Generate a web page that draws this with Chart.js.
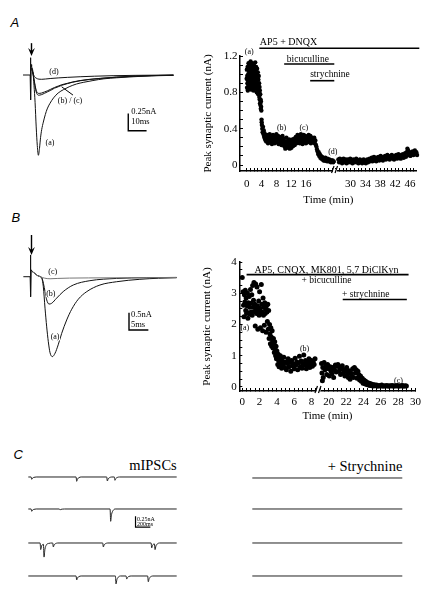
<!DOCTYPE html>
<html>
<head>
<meta charset="utf-8">
<script src="https://cdn.jsdelivr.net/npm/chart.js@4.4.1/dist/chart.umd.min.js"></script>
<style>
  html, body { margin: 0; padding: 0; background: #fff; }
  body { position: relative; width: 429px; height: 594px; overflow: hidden; font-family: "Liberation Serif", serif; color: #000; }
  canvas { position: absolute; }
  .panel { position: absolute; font: italic 13px "Liberation Sans", sans-serif; line-height: 1; }
  .title { position: absolute; font-size: 14.5px; line-height: 1; white-space: nowrap; }
</style>
</head>
<body>
<div class="panel" style="left:10.5px;top:15.7px">A</div>
<div class="panel" style="left:11.5px;top:210.7px">B</div>
<div class="panel" style="left:13.5px;top:448.3px">C</div>
<div class="title" style="right:252.3px;top:457.9px">mIPSCs</div>
<div class="title" style="right:26.7px;top:458.9px">+ Strychnine</div>

<canvas id="traceA" width="170" height="130" style="left:15px;top:35px"></canvas>
<canvas id="courseA" width="234" height="185" style="left:195px;top:30px"></canvas>
<canvas id="traceB" width="170" height="142" style="left:15px;top:228px"></canvas>
<canvas id="courseB" width="234" height="175" style="left:195px;top:250px"></canvas>

<canvas id="mini1" width="153" height="30" style="left:26px;top:471.7px"></canvas>
<canvas id="mini2" width="153" height="30" style="left:26px;top:504.3px"></canvas>
<canvas id="mini3" width="153" height="30" style="left:26px;top:538.3px"></canvas>
<canvas id="mini4" width="153" height="30" style="left:26px;top:571px"></canvas>
<canvas id="stry1" width="155" height="30" style="left:250px;top:473.3px"></canvas>
<canvas id="stry2" width="155" height="30" style="left:250px;top:504.3px"></canvas>
<canvas id="stry3" width="155" height="30" style="left:250px;top:538.3px"></canvas>
<canvas id="stry4" width="155" height="30" style="left:250px;top:571px"></canvas>

<script>
const SERIF = '"Liberation Serif", serif';
Chart.defaults.font.family = SERIF;
Chart.defaults.color = '#000';

// ---------- A: evoked currents, [ms, nA]
const stimA = [[-4.2, 0], [-0.3, 0], [-0.15, 0.25], [0.05, -0.36], [0.25, 0.15], [0.5, 0.12]];
const evokedAa = [[0.5, 0.12], [1.2, 0.05], [1.8, -0.15], [2.4, -0.4], [3.0, -0.75], [3.6, -1.02], [4.2, -1.16], [4.8, -1.06], [5.4, -0.9], [6.0, -0.79], [6.9, -0.68], [8.0, -0.57], [9.0, -0.49], [10.5, -0.41], [12.5, -0.33], [15, -0.26], [18, -0.21], [21, -0.17], [25, -0.13], [29, -0.105], [34, -0.08], [40, -0.055], [47, -0.04], [56, -0.025], [66, -0.012], [78, -0.005]];
const evokedAb = [[0.5, 0.1], [1.2, 0.03], [1.8, -0.06], [2.4, -0.15], [3.0, -0.22], [3.6, -0.255], [4.2, -0.265], [5.0, -0.265], [6.0, -0.26], [7.5, -0.245], [9, -0.23], [11, -0.205], [13, -0.18], [15, -0.16], [17, -0.14], [20, -0.12], [23, -0.1], [27, -0.08], [32, -0.063], [38, -0.048], [47, -0.03], [58, -0.015], [70, -0.006], [78, -0.003]];
const evokedAc = [[0.5, 0.1], [1.2, 0.03], [1.8, -0.07], [2.4, -0.17], [3.0, -0.245], [3.6, -0.28], [4.2, -0.292], [5.0, -0.29], [6.0, -0.283], [7.5, -0.265], [9, -0.245], [11, -0.22], [13, -0.19], [15, -0.17], [17, -0.148], [20, -0.125], [23, -0.104], [27, -0.083], [32, -0.065], [38, -0.05], [47, -0.031], [58, -0.016], [70, -0.007], [78, -0.003]];
const evokedAd = [[0.5, 0.1], [1.2, 0.03], [2.0, -0.02], [3.0, -0.045], [4.5, -0.06], [6, -0.062], [8, -0.058], [11, -0.05], [15, -0.042], [20, -0.034], [27, -0.025], [35, -0.017], [45, -0.01], [57, -0.005], [78, 0]];
const scaleBarA = [[53.3, -0.555], [53.3, -0.805], [63.3, -0.805]]; // 0.25 nA, 10 ms

// ---------- A: time course, [min, nA]
const courseA1 = [
  [0.00,0.95],[0.05,1.05],[0.10,0.85],[0.15,0.98],[0.20,0.90],[0.25,1.08],[0.30,0.82],[0.35,0.93],[0.40,1.00],[0.45,0.88],
  [0.50,1.12],[0.55,0.95],[0.60,0.84],[0.65,1.03],[0.70,0.91],[0.75,0.97],[0.80,1.10],[0.85,0.86],[0.90,0.99],[0.95,1.06],
  [1.00,0.89],[1.05,1.14],[1.10,0.93],[1.15,0.83],[1.20,1.01],[1.25,0.96],[1.30,1.09],[1.35,0.87],[1.40,1.04],[1.45,0.92],
  [1.50,1.12],[1.55,0.85],[1.60,0.98],[1.65,1.07],[1.70,0.90],[1.75,1.02],[1.80,0.82],[1.85,0.95],[1.90,1.11],[1.95,0.88],
  [2.00,1.00],[2.05,1.08],[2.10,0.86],[2.15,0.94],[2.20,1.05],[2.25,0.90],[2.30,1.13],[2.35,0.97],[2.40,0.84],[2.45,1.03],
  [2.50,0.92],[2.55,1.08],[2.60,0.88],[2.65,1.00],[2.70,0.80],[2.75,0.95],[2.80,1.06],[2.85,0.87],[2.90,0.98],[2.95,0.83],
  [3.00,1.02],[3.05,0.90],[3.10,0.78],[3.15,0.94],[3.20,0.85],[3.25,0.98],[3.30,0.80],[3.35,0.90],[3.40,0.75],[3.45,0.86],
  [3.50,0.72],[3.55,0.82],[3.60,0.68],[3.65,0.78],[3.70,0.66],[3.75,0.72],[3.80,0.62],[3.85,0.70],[3.90,0.64],[3.95,0.60],
  [4.00,0.50],[4.05,0.47],[4.10,0.44],[4.20,0.40],[4.30,0.36],[4.40,0.42],[4.50,0.34],[4.60,0.38],[4.70,0.31],[4.80,0.35],
  [4.90,0.29],[5.00,0.33],[5.10,0.27],[5.20,0.32],[5.30,0.26],[5.45,0.33],[5.60,0.28],[5.75,0.24],[5.90,0.31],[6.05,0.27],
  [6.20,0.34],[6.35,0.25],[6.50,0.29],[6.65,0.32],[6.80,0.23],[6.95,0.28],[7.10,0.33],[7.25,0.26],[7.40,0.30],[7.55,0.24],
  [7.70,0.31],[7.85,0.27],[8.00,0.34],[8.15,0.25],[8.30,0.29],[8.45,0.32],[8.60,0.23],[8.75,0.28],[8.90,0.31],[9.05,0.25],
  [9.20,0.30],[9.35,0.22],[9.50,0.27],[9.65,0.32],[9.80,0.24],[9.95,0.29],[10.10,0.21],[10.25,0.26],[10.40,0.18],[10.55,0.24],
  [10.70,0.30],[10.85,0.20],[11.00,0.26],[11.15,0.19],[11.30,0.23],[11.45,0.28],[11.60,0.18],[11.75,0.22],[11.90,0.26],[12.05,0.19],
  [12.20,0.24],[12.35,0.28],[12.50,0.21],[12.65,0.25],[12.80,0.29],[12.95,0.22],[13.10,0.27],[13.25,0.31],[13.40,0.24],[13.55,0.29],
  [13.70,0.33],[13.85,0.25],[14.00,0.28],[14.15,0.32],[14.30,0.24],[14.45,0.29],[14.60,0.34],[14.75,0.26],[14.90,0.30],[15.05,0.23],
  [15.20,0.28],[15.35,0.33],[15.50,0.25],[15.65,0.29],[15.80,0.32],[15.95,0.24],[16.10,0.28],[16.25,0.31],[16.40,0.25],[16.55,0.30],
  [16.70,0.33],[16.85,0.26],[17.00,0.29],[17.15,0.32],[17.30,0.24],[17.45,0.28],[17.60,0.30],[17.75,0.25],[17.90,0.29],[18.05,0.26],
  [18.20,0.30],[18.35,0.24],[18.50,0.27],[18.65,0.22],[18.80,0.20],[18.95,0.17],[19.10,0.15],[19.25,0.12],[19.40,0.14],[19.55,0.10],
  [19.70,0.12],[19.85,0.08],[20.00,0.10],[20.15,0.07],[20.30,0.09],[20.45,0.06],[20.60,0.08],[20.75,0.05],[20.90,0.07],[21.05,0.05],
  [21.20,0.08],[21.35,0.05],[21.50,0.06],[21.65,0.04],[21.80,0.07],[21.95,0.05],[22.10,0.04],[22.25,0.06],[22.40,0.04],[22.55,0.05],
  [22.70,0.03],[22.85,0.05],[23.00,0.04],[23.15,0.05],[23.30,0.03],[23.45,0.04]
];
const courseA2 = [
  [26.7,0.06],[26.9,0.03],[27.1,0.07],[27.3,0.04],[27.5,0.06],[27.7,0.02],[27.9,0.05],[28.1,0.07],[28.3,0.03],[28.5,0.05],
  [28.7,0.06],[28.9,0.02],[29.1,0.04],[29.3,0.06],[29.5,0.03],[29.7,0.05],[29.9,0.07],[30.1,0.03],[30.3,0.05],[30.5,0.02],
  [30.7,0.06],[30.9,0.04],[31.1,0.03],[31.3,0.05],[31.5,0.07],[31.7,0.03],[31.9,0.05],[32.1,0.02],[32.3,0.04],[32.5,0.06],
  [32.7,0.03],[32.9,0.05],[33.1,0.02],[33.3,0.04],[33.5,0.06],[33.7,0.03],[33.9,0.05],[34.1,0.02],[34.3,0.04],[34.5,0.06],
  [34.7,0.03],[34.9,0.05],[35.1,0.07],[35.3,0.04],[35.5,0.06],[35.7,0.08],[35.9,0.04],[36.1,0.06],[36.3,0.09],[36.5,0.05],
  [36.7,0.07],[36.9,0.04],[37.1,0.08],[37.3,0.06],[37.5,0.09],[37.7,0.05],[37.9,0.07],[38.1,0.10],[38.3,0.06],[38.5,0.08],
  [38.7,0.05],[38.9,0.09],[39.1,0.07],[39.3,0.10],[39.5,0.06],[39.7,0.08],[39.9,0.11],[40.1,0.07],[40.3,0.09],[40.5,0.06],
  [40.7,0.10],[40.9,0.08],[41.1,0.11],[41.3,0.07],[41.5,0.09],[41.7,0.06],[41.9,0.10],[42.1,0.08],[42.3,0.11],[42.5,0.07],
  [42.7,0.09],[42.9,0.12],[43.1,0.08],[43.3,0.10],[43.5,0.07],[43.7,0.11],[43.9,0.09],[44.1,0.12],[44.3,0.08],[44.5,0.10],
  [44.7,0.13],[44.9,0.09],[45.1,0.14],[45.3,0.18],[45.5,0.16],[45.7,0.11],[45.9,0.13],[46.1,0.10],[46.3,0.14],[46.5,0.12],
  [46.7,0.15],[46.9,0.11],[47.1,0.13],[47.3,0.16],[47.5,0.12],[47.7,0.14],[47.9,0.11],[48.1,0.15],[48.3,0.13]
];
const drugNamesA = ['AP5 + DNQX', 'bicuculline', 'strychnine'];
const drugStartA = [3.4, 10.1, 17.1];
const drugEndA = [48.5, 23.6, 23.6];
const xLabelsA = ['0', '4', '8', '12', '16', '30', '34', '38', '42', '46'];
const yLabelsA = ['0', '0.4', '0.8', '1.2'];

// ---------- B: evoked currents, [ms, nA]
const stimB = [[-1.9, 0], [-0.15, 0], [-0.08, 0.63], [0.02, -0.58], [0.12, 0.2], [0.4, 0.15]];
const evokedBa = [[0.4, 0.15], [1.0, 0.1], [1.8, 0.03], [2.5, 0], [2.9, -0.05], [3.26, -0.29], [3.7, -0.91], [4.13, -1.45], [4.55, -1.88], [5.0, -2.2], [5.6, -2.31], [6.3, -2.21], [7.1, -1.97], [8.0, -1.64], [9.3, -1.25], [10.6, -0.94], [12.3, -0.65], [14.5, -0.43], [17.9, -0.24], [22.2, -0.145], [28.2, -0.075], [33, -0.045], [37.7, -0.03]];
const evokedBb = [[0.4, 0.15], [1.0, 0.1], [1.8, 0.03], [2.5, 0], [2.9, -0.04], [3.3, -0.2], [3.7, -0.43], [4.13, -0.67], [4.73, -0.79], [5.4, -0.77], [6.7, -0.62], [8.4, -0.43], [11, -0.24], [15.3, -0.115], [22.2, -0.05], [30, -0.028], [37.7, -0.02]];
const evokedBc = [[0.4, 0.15], [1.0, 0.1], [1.8, 0.03], [2.5, 0], [3.5, -0.04], [5, -0.06], [7, -0.05], [10, -0.04], [15, -0.035], [25, -0.03], [37.7, -0.025]];
const scaleBarB = [[25.4, -1.04], [25.4, -1.54], [30.4, -1.54]]; // 0.5 nA, 5 ms

// ---------- B: time course, [min, nA]
const courseB1 = [
  [0.0,3.51],[0.1,3.05],[0.15,2.62],[0.2,2.25],[0.25,2.95],[0.3,2.72],[0.35,3.1],[0.4,2.45],[0.45,2.85],[0.5,2.35],
  [0.55,2.6],[0.6,3.0],[0.65,2.2],[0.7,2.7],[0.75,2.38],[0.8,2.9],[0.85,2.55],[0.9,2.33],[0.95,3.12],[1.0,2.68],
  [1.05,2.4],[1.1,2.95],[1.15,2.3],[1.2,3.25],[1.25,2.55],[1.3,2.78],[1.35,3.35],[1.4,2.42],[1.45,2.65],[1.5,1.95],
  [1.55,3.3],[1.6,2.5],[1.65,2.35],[1.7,3.2],[1.75,2.6],[1.8,1.85],[1.85,2.45],[1.9,2.75],[1.95,2.3],[2.0,3.05],
  [2.05,2.52],[2.1,1.9],[2.15,2.37],[2.2,3.28],[2.25,2.65],[2.3,2.4],[2.35,1.8],[2.4,2.85],[2.45,2.3],[2.5,2.55],
  [2.55,1.98],[2.6,2.7],[2.65,2.35],[2.7,2.5],[2.75,1.75],[2.8,2.6],[2.85,2.4],[2.9,2.1],[2.95,2.65],[3.0,1.85],
  [3.05,2.45],[3.1,1.55],[3.15,2.0],[3.2,1.7],[3.25,1.38],[3.3,1.9],[3.35,1.6],[3.4,1.3],[3.45,1.8],[3.5,1.48],
  [3.55,1.25],[3.6,1.55],[3.65,1.35],[3.7,1.1],[3.75,1.45],[3.8,1.2],[3.85,1.0],[3.9,1.3],[3.95,0.9],[4.0,1.15],
  [4.05,0.97],[4.1,0.72],[4.15,1.05],[4.2,0.85],[4.25,0.65],[4.3,0.95],[4.35,0.78],[4.4,1.0],[4.45,0.68],[4.5,0.88],
  [4.55,0.6],[4.6,0.82],[4.7,0.7],[4.8,0.95],[4.9,0.62],[5.0,0.8],[5.1,0.55],[5.2,0.75],[5.3,0.9],[5.4,0.65],
  [5.5,0.78],[5.6,0.5],[5.7,0.85],[5.8,0.68],[5.9,0.74],[6.0,0.58],[6.1,0.92],[6.2,0.7],[6.3,0.8],[6.4,0.55],
  [6.5,0.77],[6.6,0.98],[6.7,0.65],[6.8,0.83],[6.9,0.6],[7.0,0.75],[7.1,1.02],[7.2,0.7],[7.3,0.85],[7.4,0.58],
  [7.5,0.8],[7.6,0.68],[7.7,0.9],[7.8,0.62],[7.9,0.77],[8.0,0.85],[8.1,0.66],[8.2,0.8],[8.3,0.72],[8.4,0.9]
];
const courseB2 = [
  [19.15,0.75],[19.2,0.45],[19.25,0.2],[19.3,0.62],[19.35,0.3],[19.45,0.78],[19.55,0.55],[19.65,0.68],[19.75,0.4],[19.85,0.72],
  [19.95,0.58],[20.05,0.35],[20.15,0.65],[20.25,0.5],[20.35,0.42],[20.45,0.62],[20.55,0.3],[20.65,0.55],[20.75,0.7],[20.85,0.48],
  [20.95,0.66],[21.05,0.72],[21.15,0.5],[21.25,0.62],[21.35,0.4],[21.45,0.58],[21.55,0.68],[21.65,0.45],[21.75,0.55],[21.85,0.35],
  [21.95,0.5],[22.05,0.62],[22.15,0.4],[22.25,0.3],[22.35,0.52],[22.45,0.25],[22.55,0.45],[22.65,0.35],[22.75,0.58],[22.85,0.3],
  [22.95,0.62],[23.05,0.45],[23.15,0.55],[23.25,0.28],[23.35,0.5],[23.45,0.4],[23.55,0.22],[23.65,0.35],[23.75,0.18],[23.85,0.28],
  [23.95,0.12],[24.05,0.22],[24.15,0.1],[24.25,0.18],[24.35,0.08],[24.45,0.14],[24.55,0.06],[24.65,0.12],[24.75,0.05],[24.85,0.1],
  [24.95,0.04],[25.05,0.08],[25.15,0.03],[25.25,0.07],[25.35,0.04],[25.5,0.06],[25.65,0.02],[25.8,0.05],[25.95,0.03],[26.1,0.06],
  [26.25,0.02],[26.4,0.04],[26.55,0.03],[26.7,0.05],[26.85,0.02],[27.0,0.04],[27.15,0.03],[27.3,0.05],[27.45,0.02],[27.6,0.04],
  [27.75,0.03],[27.9,0.05],[28.05,0.02],[28.2,0.04],[28.35,0.03],[28.5,0.05],[28.65,0.02],[28.8,0.04],[28.95,0.03]
];
const drugNamesB = ['AP5, CNQX, MK801, 5,7 DiClKyn', '+ bicuculline', '+ strychnine'];
const drugStartB = [0.5, 21.6];
const drugEndB = [29.2, 29.0];
const xLabelsB = ['0', '2', '4', '6', '8', '20', '22', '24', '26', '28', '30'];
const yLabelsB = ['0', '1', '2', '3', '4'];

// ---------- C: miniature currents, [ms, pA]
const mini1 = [[0,0],[38,0],[46,-52],[58,-23],[76,-8],[106,0],[644,0],[652,-98],[664,-44],[682,-15],[712,0],[1057,0],[1065,-91],[1077,-41],[1095,-14],[1125,0],[1160,0],[1168,-75],[1180,-34],[1198,-11],[1228,0],[2000,0]];
const mini2 = [[0,0],[38,0],[46,-52],[58,-23],[76,-8],[106,0],[419,0],[427,-20],[439,-9],[457,-3],[487,0],[1102,0],[1110,-280],[1122,-126],[1140,-42],[1170,0],[2000,0]];
const mini3 = [[0,0],[159,0],[167,-150],[179,-68],[204,-30],[212,-320],[224,-144],[242,-48],[272,-10],[329,0],[337,-90],[349,-40],[367,-14],[397,0],[1003,0],[1011,-90],[1023,-40],[1041,-14],[1071,0],[1655,0],[1663,-110],[1675,-50],[1700,-22],[1708,-150],[1720,-68],[1738,-22],[1768,0],[2000,0]];
const mini4 = [[0,0],[644,0],[652,-90],[664,-40],[682,-14],[712,0],[1174,0],[1182,-180],[1194,-81],[1212,-27],[1242,0],[1318,0],[1326,-70],[1338,-32],[1356,-10],[1386,0],[1609,0],[1617,-130],[1629,-58],[1647,-20],[1677,0],[2000,0]];
const strych = [[0,0],[2000,0]];
const scaleBarC = [[1445,-164],[1445,-414],[1645,-414]]; // 0.25 nA, 200 ms

// axis breaks: real minutes -> position on the drawn axis
const mapA = t => t <= 25 ? t : t - 2;
const mapB = t => t <= 14 ? t : t - 10;

const notes = {
  id: 'notes',
  afterDatasetsDraw(chart, args, o) {
    const ctx = chart.ctx, xs = chart.scales.x, ys = chart.scales.y;
    const px = v => xs.getPixelForValue(v), py = v => ys.getPixelForValue(v);
    ctx.save();
    ctx.strokeStyle = '#000';
    ctx.fillStyle = '#000';
    (o.lines || []).forEach(l => {
      ctx.lineWidth = 1;
      ctx.beginPath();
      ctx.moveTo(px(l[0]), py(l[1]));
      ctx.lineTo(px(l[2]), py(l[3]));
      ctx.stroke();
    });
    (o.arrows || []).forEach(a => {
      const x = Math.round(px(a[0])) + 0.5, top = py(a[1]), tip = py(a[2]);
      ctx.lineWidth = 1.4;
      ctx.beginPath(); ctx.moveTo(x, top); ctx.lineTo(x, tip - 4); ctx.stroke();
      ctx.beginPath();
      ctx.moveTo(x - 3.4, tip - 8); ctx.lineTo(x, tip); ctx.lineTo(x + 3.4, tip - 8); ctx.lineTo(x, tip - 5);
      ctx.closePath(); ctx.fill();
    });
    (o.breaks || []).forEach(b => {
      const x = px(b), y = xs.top;
      ctx.fillStyle = '#fff';
      ctx.fillRect(x - 2, y - 2, 4, 4);
      ctx.fillStyle = '#000';
      ctx.lineWidth = 1.2;
      ctx.beginPath();
      ctx.moveTo(x - 3.5, y + 2); ctx.lineTo(x - 1, y - 5);
      ctx.moveTo(x, y + 2); ctx.lineTo(x + 2.5, y - 5);
      ctx.stroke();
    });
    (o.texts || []).forEach(t => {
      ctx.font = t[3] + 'px ' + SERIF;
      ctx.textAlign = t[4] || 'center';
      ctx.textBaseline = 'middle';
      const x = px(t[1]), y = py(t[2]);
      if (t[5]) {
        const w = ctx.measureText(t[0]).width;
        const x0 = ctx.textAlign === 'left' ? x : x - w / 2;
        ctx.fillStyle = '#fff';
        ctx.fillRect(x0 - 0.5, y - t[3] * 0.4, w + 1, t[3] * 0.8);
      }
      ctx.fillStyle = '#000';
      ctx.fillText(t[0], x, y);
    });
    ctx.restore();
  }
};

function traceChart(id, sets, xr, yr, note) {
  new Chart(document.getElementById(id), {
    type: 'line',
    data: {
      datasets: sets.map(s => ({
        data: s.pts.map(p => ({ x: p[0], y: p[1] })),
        borderColor: s.color || '#111',
        borderWidth: s.w || 1,
        pointRadius: 0,
        cubicInterpolationMode: s.sharp ? 'default' : 'monotone',
        tension: 0,
        fill: false,
        clip: false
      }))
    },
    options: {
      responsive: false, animation: false, events: [],
      layout: { padding: 0 },
      plugins: { legend: { display: false }, tooltip: { enabled: false }, notes: note || {} },
      scales: {
        x: { type: 'linear', display: false, min: xr[0], max: xr[1] },
        y: { type: 'linear', display: false, min: yr[0], max: yr[1] }
      }
    },
    plugins: [notes]
  });
}

function axisStyle(o) {
  return {
    type: 'linear', min: o.min, max: o.max,
    afterFit: o.fit,
    border: { display: true, color: '#000', width: 1.5 },
    grid: {
      drawOnChartArea: false, drawTicks: true, tickLength: -3, tickWidth: 1,
      tickColor: c => (c.tick && c.tick.value >= -1e-9 && c.tick.value <= o.tickMax) ? '#000' : 'rgba(0,0,0,0)'
    },
    ticks: {
      stepSize: o.step, includeBounds: false, autoSkip: false, maxRotation: 0, minRotation: 0,
      padding: o.pad, color: '#000', font: { family: SERIF, size: 11 },
      callback: o.label
    },
    title: {
      display: true, text: o.title, color: '#000',
      font: { family: SERIF, size: 11, lineHeight: 1.2 }, padding: o.titlePad
    }
  };
}

function courseChart(id, o) {
  const datasets = [{
    data: o.points, pointRadius: o.radius, pointBackgroundColor: '#000', pointBorderWidth: 0,
    showLine: false, clip: false
  }];
  o.bars.forEach(b => datasets.push({
    data: b, showLine: true, borderColor: '#000', borderWidth: 1.6, pointRadius: 0, clip: false
  }));
  new Chart(document.getElementById(id), {
    type: 'scatter',
    data: { datasets },
    options: {
      responsive: false, animation: false, events: [],
      layout: { padding: o.padding },
      plugins: { legend: { display: false }, tooltip: { enabled: false }, notes: o.notes },
      scales: { x: axisStyle(o.x), y: axisStyle(o.y) }
    },
    plugins: [notes]
  });
}

const near = (v, w) => Math.abs(v - w) < 1e-6;

// ---------- A traces
traceChart('traceA', [
  { pts: stimA, sharp: true },
  { pts: evokedAa }, { pts: evokedAb }, { pts: evokedAc }, { pts: evokedAd },
  { pts: scaleBarA, sharp: true, w: 1.4, color: '#000' }
], [-8.58, 84.3], [-1.30, 0.578], {
  arrows: [[0, 0.46, 0.275]],
  lines: [[23.1, -0.29, 16.9, -0.17]],
  texts: [
    ['(d)', 12.7, 0.048, 8], ['(b) / (c)', 21.5, -0.376, 8], ['(a)', 10.5, -0.98, 8],
    ['0.25nA', 54.9, -0.53, 8.5, 'left'], ['10ms', 54.9, -0.68, 8.5, 'left']
  ]
});

// ---------- A time course
courseChart('courseA', {
  points: courseA1.concat(courseA2).map(p => ({ x: mapA(p[0]), y: p[1] })),
  radius: 2.2,
  bars: [
    [{ x: mapA(drugStartA[0]), y: 1.285 }, { x: mapA(drugEndA[0]), y: 1.285 }],
    [{ x: mapA(drugStartA[1]), y: 1.112 }, { x: mapA(drugEndA[1]), y: 1.112 }],
    [{ x: mapA(drugStartA[2]), y: 0.928 }, { x: mapA(drugEndA[2]), y: 0.928 }]
  ],
  padding: { left: 0, top: 26, right: 12.3, bottom: 0 },
  x: {
    min: -1.8, max: 45.8, step: 1, tickMax: 46, pad: 10, fit: s => { s.height = 44; },
    title: 'Time (min)', titlePad: { top: 0, bottom: 8 },
    label: v => {
      const l = [0, 4, 8, 12, 16, 28, 32, 36, 40, 44].findIndex(w => near(v, w));
      return l < 0 ? '' : xLabelsA[l];
    }
  },
  y: {
    min: -0.066, max: 1.2, step: 0.1, tickMax: 1.21, pad: 5.5, fit: s => { s.width = 45; },
    title: 'Peak synaptic current (nA)', titlePad: { top: 6.7, bottom: 0 },
    label: v => {
      const l = [0, 0.4, 0.8, 1.2].findIndex(w => near(v, w));
      return l < 0 ? '' : yLabelsA[l];
    }
  },
  notes: {
    breaks: [23.8],
    texts: [
      [drugNamesA[0], mapA(drugStartA[0]) + 0.15, 1.347, 10, 'left'],
      [drugNamesA[1], 10.8, 1.163, 9.5, 'left'],
      [drugNamesA[2], mapA(drugStartA[2]), 1.0, 9.5, 'left'],
      ['(a)', 0.7, 1.248, 8], ['(b)', 9.4, 0.404, 8], ['(c)', 15.4, 0.404, 8], ['(d)', 23.2, 0.146, 8]
    ]
  }
});

// ---------- B traces
traceChart('traceB', [
  { pts: stimB, sharp: true },
  { pts: evokedBc, color: '#777' },
  { pts: evokedBa }, { pts: evokedBb },
  { pts: scaleBarB, sharp: true, w: 1.4, color: '#000' }
], [-4.06, 39.87], [-2.697, 1.408], {
  arrows: [[0, 1.205, 0.627]],
  texts: [
    ['(c)', 5.7, 0.145, 8], ['(b)', 5.2, -0.5, 8, 'center', true], ['(a)', 6.3, -1.75, 8, 'center', true],
    ['0.5nA', 25.9, -1.09, 8.5, 'left'], ['5ms', 25.9, -1.38, 8.5, 'left']
  ]
});

// ---------- B time course
courseChart('courseB', {
  points: courseB1.concat(courseB2).map(p => ({ x: mapB(p[0]), y: p[1] })),
  radius: 2.5,
  bars: [
    [{ x: mapB(drugStartB[0]), y: 3.6 }, { x: mapB(drugEndB[0]), y: 3.6 }],
    [{ x: mapB(drugStartB[1]), y: 2.8 }, { x: mapB(drugEndB[1]), y: 2.8 }]
  ],
  padding: { left: 0, top: 6.7, right: 9.9, bottom: 0 },
  x: {
    min: -0.34, max: 20, step: 0.5, tickMax: 20, pad: 8, fit: s => { s.height = 34; },
    title: 'Time (min)', titlePad: { top: 0, bottom: 2.5 },
    label: v => {
      const l = [0, 2, 4, 6, 8, 10, 12, 14, 16, 18, 20].findIndex(w => near(v, w));
      return l < 0 ? '' : xLabelsB[l];
    }
  },
  y: {
    min: -0.13, max: 4, step: 0.25, tickMax: 4.01, pad: 5.5, fit: s => { s.width = 44.3; },
    title: 'Peak synaptic current (nA)', titlePad: { top: 5.1, bottom: 0 },
    label: v => {
      const l = [0, 1, 2, 3, 4].findIndex(w => near(v, w));
      return l < 0 ? '' : yLabelsB[l];
    }
  },
  notes: {
    breaks: [8.8],
    texts: [
      [drugNamesB[0], 9.73, 3.745, 10],
      [drugNamesB[1], 9.73, 3.41, 9.5],
      [drugNamesB[2], 14.25, 2.95, 9.5],
      ['(a)', 0.3, 1.9, 8], ['(b)', 7.2, 1.21, 8], ['(c)', 18.03, 0.2, 8]
    ]
  }
});

// ---------- C traces
const leftRange = [-31, 2031], rightRange = [-30.7, 2036], ampRange = [-568.2, 113.6];
[mini1, mini2, mini3, mini4].forEach((d, i) => {
  const sets = [{ pts: d, color: '#222' }];
  let note = {};
  if (i === 1) {
    sets.push({ pts: scaleBarC, sharp: true, w: 1.2, color: '#000' });
    note = { texts: [['0.25nA', 1465, -232, 6, 'left'], ['200ms', 1465, -345, 6, 'left']] };
  }
  traceChart('mini' + (i + 1), sets, leftRange, ampRange, note);
});
[1, 2, 3, 4].forEach(i => traceChart('stry' + i, [{ pts: strych, color: '#222' }], rightRange, ampRange));
</script>
</body>
</html>
